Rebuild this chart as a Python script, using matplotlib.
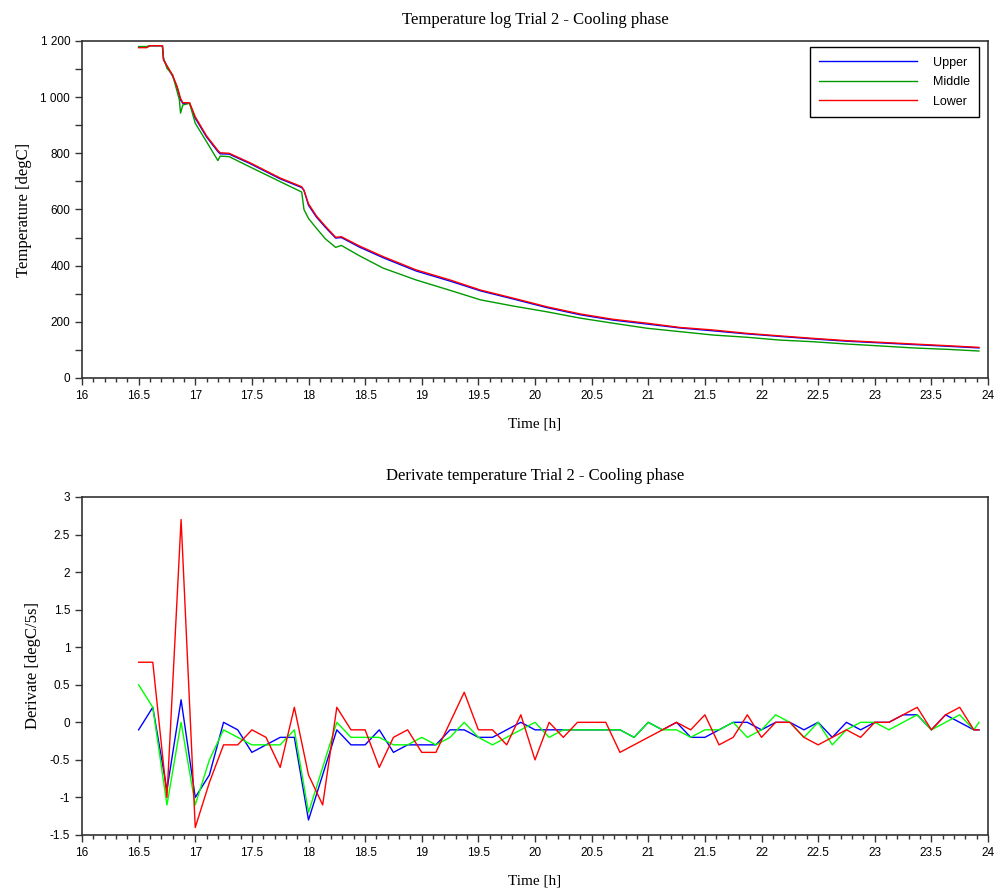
import matplotlib
matplotlib.use("Agg")
import matplotlib.pyplot as plt
from matplotlib.ticker import MultipleLocator, FixedLocator, FixedFormatter

# ---------------- Temperature data ----------------
temp_time = [16.5, 16.57, 16.6, 16.71, 16.72, 16.75, 16.8, 16.84, 16.86, 16.87,
             16.89, 16.95, 17.0, 17.1, 17.2, 17.22, 17.3, 17.48, 17.75, 17.94,
             17.96, 18.0, 18.07, 18.15, 18.24, 18.29, 18.45, 18.66, 18.95, 19.25,
             19.52, 19.81, 20.1, 20.4, 20.69, 20.99, 21.28, 21.57, 21.87, 22.16,
             22.46, 22.75, 23.05, 23.34, 23.64, 23.92]

temp_upper = [1178, 1178, 1183, 1183, 1135, 1110, 1075, 1035, 1005, 990,
              978, 978, 925, 858, 806, 798, 797, 764, 709, 678,
              668, 615, 573, 536, 498, 500, 466, 428, 381, 345,
              310, 281, 251, 225, 206, 192, 178, 168, 157, 148,
              139, 131, 125, 119, 113, 107]

temp_middle = [1180, 1180, 1183, 1183, 1138, 1103, 1079, 1020, 990, 943,
               972, 978, 907, 841, 774, 790, 788, 752, 699, 662,
               600, 568, 533, 495, 465, 472, 435, 391, 349, 312,
               278, 256, 236, 213, 195, 177, 165, 153, 145, 135,
               129, 121, 114, 107, 102, 96]

temp_lower = [1176, 1176, 1183, 1183, 1132, 1112, 1078, 1037, 1010, 996,
              980, 980, 930, 862, 810, 802, 800, 767, 712, 681,
              668, 620, 577, 540, 501, 503, 470, 432, 385, 349,
              313, 284, 254, 228, 209, 195, 180, 171, 159, 150,
              141, 133, 127, 121, 115, 109]

# ---------------- Derivative data ----------------
deriv_time = [16.5, 16.625, 16.75, 16.875, 17.0, 17.125, 17.25, 17.375, 17.5, 17.625,
              17.75, 17.875, 18.0, 18.125, 18.25, 18.375, 18.5, 18.625, 18.75, 18.875,
              19.0, 19.125, 19.25, 19.375, 19.5, 19.625, 19.75, 19.875, 20.0, 20.125,
              20.25, 20.375, 20.5, 20.625, 20.75, 20.875, 21.0, 21.125, 21.25, 21.375,
              21.5, 21.625, 21.75, 21.875, 22.0, 22.125, 22.25, 22.375, 22.5, 22.625,
              22.75, 22.875, 23.0, 23.125, 23.25, 23.375, 23.5, 23.625, 23.75, 23.875,
              23.92]

deriv_upper = [-0.1, 0.2, -0.9, 0.3, -1.0, -0.7, 0.0, -0.1, -0.4, -0.3,
               -0.2, -0.2, -1.3, -0.7, -0.1, -0.3, -0.3, -0.1, -0.4, -0.3,
               -0.3, -0.3, -0.1, -0.1, -0.2, -0.2, -0.1, 0.0, -0.1, -0.1,
               -0.1, -0.1, -0.1, -0.1, -0.1, -0.2, 0.0, -0.1, 0.0, -0.2,
               -0.2, -0.1, 0.0, 0.0, -0.1, 0.0, 0.0, -0.1, 0.0, -0.2,
               0.0, -0.1, 0.0, 0.0, 0.1, 0.1, -0.1, 0.1, 0.0, -0.1,
               -0.1]

deriv_middle = [0.5, 0.2, -1.1, 0.0, -1.1, -0.5, -0.1, -0.2, -0.3, -0.3,
                -0.3, -0.1, -1.2, -0.6, 0.0, -0.2, -0.2, -0.2, -0.3, -0.3,
                -0.2, -0.3, -0.2, 0.0, -0.2, -0.3, -0.2, -0.1, 0.0, -0.2,
                -0.1, -0.1, -0.1, -0.1, -0.1, -0.2, 0.0, -0.1, -0.1, -0.2,
                -0.1, -0.1, 0.0, -0.2, -0.1, 0.1, 0.0, -0.2, 0.0, -0.3,
                -0.1, 0.0, 0.0, -0.1, 0.0, 0.1, -0.1, 0.0, 0.1, -0.1,
                0.0]

deriv_lower = [0.8, 0.8, -1.0, 2.7, -1.4, -0.8, -0.3, -0.3, -0.1, -0.2,
               -0.6, 0.2, -0.7, -1.1, 0.2, -0.1, -0.1, -0.6, -0.2, -0.1,
               -0.4, -0.4, 0.0, 0.4, -0.1, -0.1, -0.3, 0.1, -0.5, 0.0,
               -0.2, 0.0, 0.0, 0.0, -0.4, -0.3, -0.2, -0.1, 0.0, -0.1,
               0.1, -0.3, -0.2, 0.1, -0.2, 0.0, 0.0, -0.2, -0.3, -0.2,
               -0.1, -0.2, 0.0, 0.0, 0.1, 0.2, -0.1, 0.1, 0.2, -0.1,
               -0.1]

series_names = ["Upper", "Middle", "Lower"]
x_ticks = [16, 16.5, 17, 17.5, 18, 18.5, 19, 19.5, 20, 20.5, 21, 21.5, 22, 22.5, 23, 23.5, 24]
x_tick_labels = ["16", "16.5", "17", "17.5", "18", "18.5", "19", "19.5", "20", "20.5",
                 "21", "21.5", "22", "22.5", "23", "23.5", "24"]
temp_ticks = [0, 200, 400, 600, 800, 1000, 1200]
temp_tick_labels = ["0", "200", "400", "600", "800", "1 000", "1 200"]
deriv_ticks = [-1.5, -1, -0.5, 0, 0.5, 1, 1.5, 2, 2.5, 3]
deriv_tick_labels = ["-1.5", "-1", "-0.5", "0", "0.5", "1", "1.5", "2", "2.5", "3"]

SERIF = ["Liberation Serif", "DejaVu Serif"]
SANS = ["Liberation Sans", "DejaVu Sans"]

fig = plt.figure(figsize=(10, 8.9), dpi=100)
ax1 = fig.add_axes([0.082, 0.5753, 0.906, 0.3787])
ax2 = fig.add_axes([0.082, 0.0618, 0.906, 0.3798])

axis_color = "#333333"

def style_axis(ax):
    for sp in ax.spines.values():
        sp.set_color(axis_color)
        sp.set_linewidth(1.2)
    ax.tick_params(axis="both", which="both", direction="out", colors=axis_color,
                   labelcolor="black", labelsize=8.5, width=1)
    ax.tick_params(axis="both", which="major", length=5)
    ax.tick_params(axis="both", which="minor", length=3)
    ax.tick_params(top=False, right=False)
    ax.set_xlim(16, 24)
    ax.xaxis.set_major_locator(FixedLocator(x_ticks))
    ax.xaxis.set_major_formatter(FixedFormatter(x_tick_labels))
    ax.xaxis.set_minor_locator(MultipleLocator(0.1))
    for lab in ax.get_xticklabels() + ax.get_yticklabels():
        lab.set_fontfamily(SANS)

# ---------- Top plot ----------
ax1.plot(temp_time, temp_upper, color="#0000ff", lw=1.0, label=series_names[0])
ax1.plot(temp_time, temp_middle, color="#009a00", lw=1.0, label=series_names[1])
ax1.plot(temp_time, temp_lower, color="#ff0000", lw=1.0, label=series_names[2])
ax1.set_ylim(0, 1200)
ax1.yaxis.set_major_locator(FixedLocator(temp_ticks))
ax1.yaxis.set_major_formatter(FixedFormatter(temp_tick_labels))
ax1.yaxis.set_minor_locator(MultipleLocator(100))
style_axis(ax1)
ax1.tick_params(axis="y", which="minor", length=5)
ax1.set_title("Temperature log Trial 2 - Cooling phase", fontfamily=SERIF, fontsize=12, pad=12)
ax1.set_xlabel("Time [h]", fontfamily=SERIF, fontsize=11, labelpad=11)
ax1.set_ylabel("Temperature [degC]", fontfamily=SERIF, fontsize=12, labelpad=6)
leg = ax1.legend(loc="upper right", prop={"family": SANS, "size": 9},
                 fancybox=False, framealpha=1, edgecolor="black", handlelength=7.8,
                 handletextpad=1.3, borderpad=0.75, labelspacing=0.6,
                 bbox_to_anchor=(0.9975, 1.0))
leg.get_frame().set_linewidth(1.0)

# ---------- Bottom plot ----------
ax2.plot(deriv_time, deriv_upper, color="#0000ff", lw=1.0)
ax2.plot(deriv_time, deriv_middle, color="#00ff00", lw=1.0)
ax2.plot(deriv_time, deriv_lower, color="#ff0000", lw=1.0)
ax2.set_ylim(-1.5, 3)
ax2.yaxis.set_major_locator(FixedLocator(deriv_ticks))
ax2.yaxis.set_major_formatter(FixedFormatter(deriv_tick_labels))
style_axis(ax2)
ax2.set_title("Derivate temperature Trial 2 - Cooling phase", fontfamily=SERIF, fontsize=12, pad=12)
ax2.set_xlabel("Time [h]", fontfamily=SERIF, fontsize=11, labelpad=11)
ax2.set_ylabel("Derivate [degC/5s]", fontfamily=SERIF, fontsize=12, labelpad=6)

fig.savefig("out.png", dpi=100, facecolor="white")
